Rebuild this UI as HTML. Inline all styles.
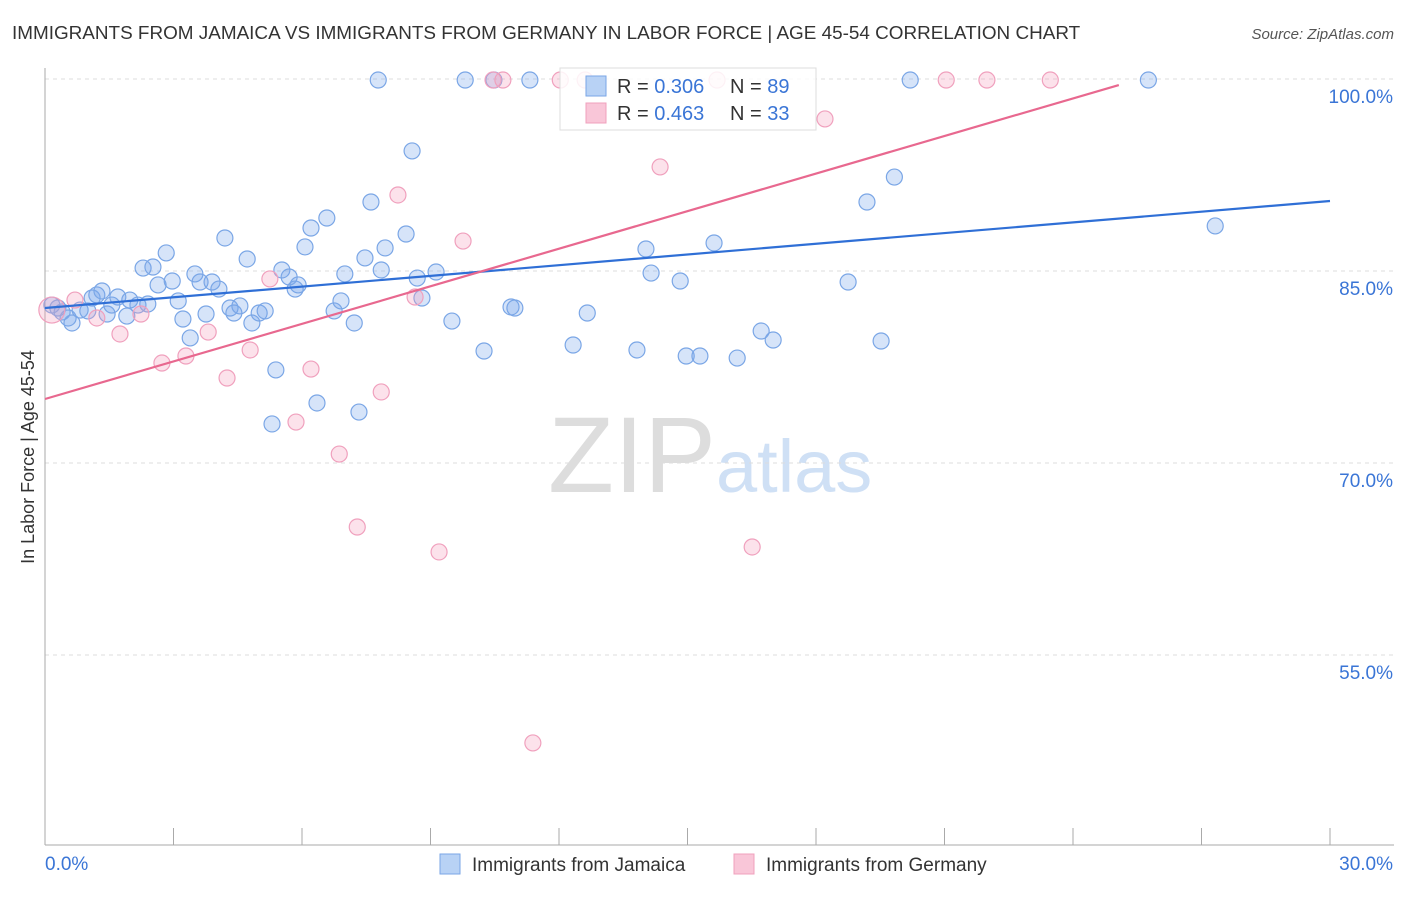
<!DOCTYPE html>
<html><head><meta charset="utf-8"><style>
body{margin:0;background:#fff;font-family:"Liberation Sans",sans-serif}
svg text{font-family:"Liberation Sans",sans-serif}
</style></head><body>
<svg id="chart" width="1406" height="892" xmlns="http://www.w3.org/2000/svg">
<text x="12" y="39" font-size="18.9" fill="#333">IMMIGRANTS FROM JAMAICA VS IMMIGRANTS FROM GERMANY IN LABOR FORCE | AGE 45-54 CORRELATION CHART</text>
<text x="1394" y="39" font-size="15" fill="#555" font-style="italic" text-anchor="end">Source: ZipAtlas.com</text>
<text x="34" y="457" font-size="18" fill="#333" text-anchor="middle" transform="rotate(-90 34 457)">In Labor Force | Age 45-54</text>
<text x="716" y="492" font-size="108" fill="#ddd" text-anchor="end" font-family="Liberation Serif">ZIP</text>
<text x="716" y="492" font-size="74" fill="#cfe0f5">atlas</text>
<g id="grid"></g><g id="pts"></g><g id="lines"></g>
<g>
<rect x="560" y="68" width="256" height="62" fill="rgba(255,255,255,0.85)" stroke="#ddd"/>
<rect x="586" y="76" width="20" height="20" fill="#b8d2f5" stroke="#7aa6e6"/>
<rect x="586" y="103" width="20" height="20" fill="#f9c6d8" stroke="#f0a0bd"/>
<text x="617" y="93" font-size="20" fill="#333">R = <tspan fill="#3a75d6">0.306</tspan></text>
<text x="730" y="93" font-size="20" fill="#333">N = <tspan fill="#3a75d6">89</tspan></text>
<text x="617" y="120" font-size="20" fill="#333">R = <tspan fill="#3a75d6">0.463</tspan></text>
<text x="730" y="120" font-size="20" fill="#333">N = <tspan fill="#3a75d6">33</tspan></text>
</g>
<g>
<rect x="440" y="854" width="20" height="20" fill="#b8d2f5" stroke="#7aa6e6"/>
<text x="472" y="871" font-size="19" fill="#333">Immigrants from Jamaica</text>
<rect x="734" y="854" width="20" height="20" fill="#f9c6d8" stroke="#f0a0bd"/>
<text x="766" y="871" font-size="19" fill="#333">Immigrants from Germany</text>
</g>
</svg>
<script>
const yTicks=[100,85,70,55];
const xTickLabels=["0.0%","30.0%"];
const jamX=[0.16,0.30,0.40,0.54,0.63,0.82,1.00,1.10,1.21,1.33,1.45,1.56,1.70,1.91,1.98,2.17,2.29,2.40,2.52,2.64,2.83,2.97,3.11,3.22,3.39,3.50,3.62,3.76,3.90,4.06,4.20,4.32,4.41,4.55,4.72,4.83,5.00,5.14,5.30,5.39,5.53,5.70,5.84,5.91,6.07,6.21,6.35,6.58,6.75,6.91,7.00,7.22,7.33,7.47,7.61,7.78,7.85,7.94,8.43,8.57,8.69,8.80,9.13,9.50,9.81,10.25,10.48,10.88,10.97,11.32,12.33,12.66,13.82,14.03,14.15,14.83,14.97,15.29,15.62,16.16,16.72,17.00,18.75,19.19,19.52,19.83,20.20,25.76,27.32];
const jamY=[82.34,82.11,81.80,81.33,80.94,81.95,81.88,82.89,83.13,83.44,81.64,82.34,82.97,81.48,82.73,82.34,85.23,82.42,85.31,83.91,86.41,84.22,82.66,81.25,79.77,84.77,84.14,81.64,84.14,83.59,87.58,82.11,81.72,82.27,85.94,80.94,81.72,81.88,73.05,77.27,85.08,84.53,83.59,83.91,86.88,88.36,74.69,89.14,81.88,82.66,84.77,80.94,73.98,86.02,90.39,99.92,85.08,86.80,87.89,94.38,84.45,82.89,84.92,81.09,99.92,78.75,99.92,82.19,82.11,99.92,79.22,81.72,78.83,86.72,84.84,84.22,78.36,78.36,87.19,78.20,80.31,79.61,84.14,90.39,79.53,92.34,99.92,99.92,88.52];
const gerX=[0.16,0.70,1.21,1.75,2.24,2.73,3.29,3.81,4.25,4.79,5.25,5.86,6.21,6.87,7.29,7.85,8.24,8.64,9.20,9.76,10.46,10.69,11.39,12.03,12.61,14.36,15.69,16.51,18.21,21.04,21.99,23.47];
const gerY=[81.95,82.73,81.33,80.08,81.64,77.81,78.36,80.23,76.64,78.83,84.38,73.20,77.34,70.70,65.00,75.55,90.94,82.97,63.05,87.34,99.92,99.92,48.13,99.92,99.92,93.13,99.92,63.44,96.88,99.92,99.92,99.92];
const jamTrendX=[0,30], jamTrendY=[82.11,90.47];
const gerTrendX=[0,25.07], gerTrendY=[75.0,99.53];
const NS="http://www.w3.org/2000/svg";
const sx=v=>45+v/30*1285, sy=v=>79+(100-v)*12.8;
function mk(t,a,p){const e=document.createElementNS(NS,t);for(const k in a)e.setAttribute(k,a[k]);p.appendChild(e);return e;}
const g=document.getElementById('grid');
yTicks.forEach(t=>{const l=mk('line',{x1:45,x2:1394,y1:sy(t),y2:sy(t),stroke:'#ddd','stroke-dasharray':'4,4'},g);


const tx=mk('text',{x:1393,y:sy(t)+24,'font-size':19,fill:'#3a75d6','text-anchor':'end'},g);tx.textContent=t.toFixed(1)+'%';

});
const ax=mk('line',{x1:45,x2:45,y1:68,y2:845,stroke:'#aaa'},g);


const bx=mk('line',{x1:45,x2:1394,y1:845,y2:845,stroke:'#aaa'},g);


for(let i=0;i<=10;i++){const t=mk('line',{x1:sx(i*3),x2:sx(i*3),y1:828,y2:845,stroke:'#aaa'},g);

}
xTickLabels.forEach((s,i)=>{const t=mk('text',{x:i?1393:45,y:870,'font-size':19,fill:'#3a75d6','text-anchor':i?'end':'start'},g);t.textContent=s;

});
const p=document.getElementById('pts');
jamX.forEach((x,i)=>{const c=mk('circle',{cx:sx(x),cy:sy(jamY[i]),r:8,fill:'rgba(120,165,235,0.3)',stroke:'#7aa6e6','stroke-width':1.2},p);

});
gerX.forEach((x,i)=>{const c=mk('circle',{cx:sx(x),cy:sy(gerY[i]),r:i==0?13:8,fill:'rgba(245,160,190,0.3)',stroke:'#f0a0bd','stroke-width':1.2},p);

});
const L=document.getElementById('lines');
const l1=mk('line',{x1:sx(jamTrendX[0]),y1:sy(jamTrendY[0]),x2:sx(jamTrendX[1]),y2:sy(jamTrendY[1]),stroke:'#2f6fd6','stroke-width':2.2},L);


const l2=mk('line',{x1:sx(gerTrendX[0]),y1:sy(gerTrendY[0]),x2:sx(gerTrendX[1]),y2:sy(gerTrendY[1]),stroke:'#e8688f','stroke-width':2.2},L);


</script>
</body></html>
